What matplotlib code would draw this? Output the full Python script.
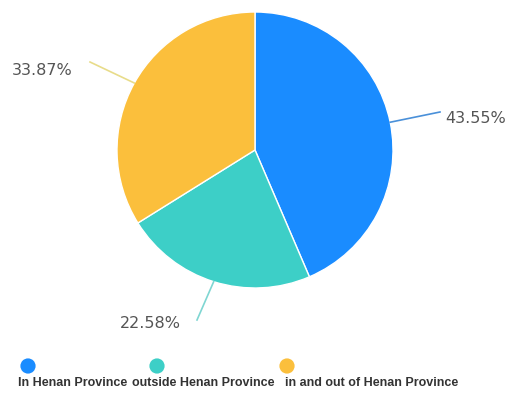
import numpy as np
import matplotlib
matplotlib.use("Agg")
import matplotlib.pyplot as plt

labels = ['In Henan Province', 'outside Henan Province', 'in and out of Henan Province']
values = [43.55, 22.58, 33.87]
colors = ['#1a8cff', '#3dcfc7', '#fbbf3c']
line_colors = ['#4a90d9', '#7fd6d2', '#e8dc8a']

W, H = 520, 394
fig = plt.figure(figsize=(W / 100, H / 100), dpi=100)
ax = fig.add_axes([0, 0, 1, 1])

cx, cy, r = 255, H - 150, 138
wedges, _ = ax.pie(values, colors=colors, startangle=90, counterclock=False,
                   center=(cx, cy), radius=r, frame=True,
                   wedgeprops=dict(edgecolor='white', linewidth=1))
ax.set_xlim(0, W)
ax.set_ylim(0, H)
ax.set_aspect('equal')
ax.axis('off')

# label end points and text anchors (pixel coords from top)
ends = [(440, 112), (197, 320), (90, 62)]
text_pos = [(445, 118, 'left'), (181, 324, 'right'), (73, 70, 'right')]

for w, v, lc, e, tp in zip(wedges, values, line_colors, ends, text_pos):
    ang = np.deg2rad((w.theta1 + w.theta2) / 2)
    x0, y0 = cx + r * np.cos(ang), cy + r * np.sin(ang)
    ax.plot([x0, e[0]], [y0, H - e[1]], color=lc, lw=1.2)
    ax.text(tp[0], H - tp[1], f'{v:.2f}%', ha=tp[2], va='center',
            fontsize=11.5, color='#555555', family='DejaVu Sans')

# legend: circles above, labels below
leg_x = [28, 157, 287]
txt_x = [18, 132, 285]
for lx, tx, c, lab in zip(leg_x, txt_x, colors, labels):
    ax.scatter([lx], [H - 366], s=120, color=c, edgecolors='none')
    ax.text(tx, H - 383, lab, ha='left', va='center', fontsize=9,
            color='#333333', family='Liberation Sans', fontweight='bold')

fig.savefig('out.png', dpi=100)
